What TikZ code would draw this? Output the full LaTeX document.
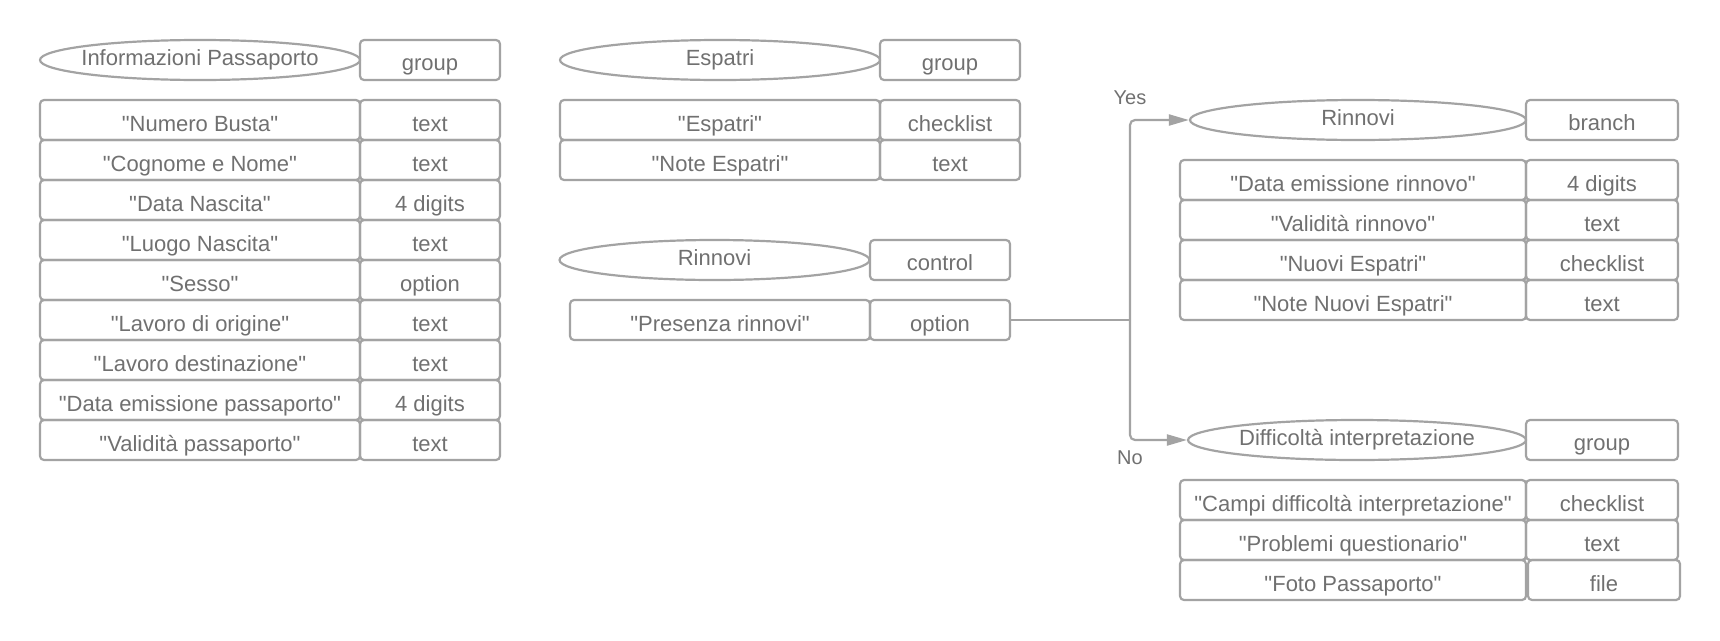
\documentclass[tikz,border=0pt]{standalone}
\usepackage{fontspec}
\setmainfont{Liberation Sans}[Ligatures=TeXOff]
\usetikzlibrary{shapes.geometric,arrows.meta}
\definecolor{ln}{HTML}{A3A3A3}
\definecolor{tx}{HTML}{707070}
\tikzset{
 base/.style={draw=ln, line width=2.2pt, text=tx, inner sep=0pt, font=\fontsize{22}{26}\selectfont},
 cell/.style={base, rectangle, rounded corners=4pt, minimum height=40pt, text height=22pt, text depth=0pt},
 tbox/.style={base, rectangle, rounded corners=4pt, minimum height=40pt, text height=20pt, text depth=0pt},
 oval/.style={base, ellipse, minimum height=40pt, text height=10pt, text depth=0pt},
 lbl/.style={text=tx, inner sep=0pt, anchor=base, font=\fontsize{20}{24}\selectfont},
 conn/.style={draw=ln, line width=2.2pt, rounded corners=5pt},
 tip/.style={-{Triangle[length=20pt,width=11pt]}}
}
\newcommand{\ovtext}[1]{\makebox[0pt]{#1}}
\begin{document}
\begin{tikzpicture}[x=1pt,y=-1pt]
\useasboundingbox (0,0) rectangle (1720,640);
% left column
\node[oval, minimum width=320pt] (e1) at (200,60) {\ovtext{Informazioni Passaporto}};
\node[tbox, minimum width=140pt] (g1) at (430,60) {group};
\node[cell, minimum width=320pt] (a1) at (200,120) {"Numero Busta"};
\node[cell, minimum width=140pt] (b1) at (430,120) {text};
\node[cell, minimum width=320pt] (a2) at (200,160) {"Cognome e Nome"};
\node[cell, minimum width=140pt] (b2) at (430,160) {text};
\node[cell, minimum width=320pt] (a3) at (200,200) {"Data Nascita"};
\node[cell, minimum width=140pt] (b3) at (430,200) {4 digits};
\node[cell, minimum width=320pt] (a4) at (200,240) {"Luogo Nascita"};
\node[cell, minimum width=140pt] (b4) at (430,240) {text};
\node[cell, minimum width=320pt] (a5) at (200,280) {"Sesso"};
\node[cell, minimum width=140pt] (b5) at (430,280) {option};
\node[cell, minimum width=320pt] (a6) at (200,320) {"Lavoro di origine"};
\node[cell, minimum width=140pt] (b6) at (430,320) {text};
\node[cell, minimum width=320pt] (a7) at (200,360) {"Lavoro destinazione"};
\node[cell, minimum width=140pt] (b7) at (430,360) {text};
\node[cell, minimum width=320pt] (a8) at (200,400) {"Data emissione passaporto"};
\node[cell, minimum width=140pt] (b8) at (430,400) {4 digits};
\node[cell, minimum width=320pt] (a9) at (200,440) {"Validità passaporto"};
\node[cell, minimum width=140pt] (b9) at (430,440) {text};
% middle column
\node[oval, minimum width=320pt] (e2) at (720,60) {\ovtext{Espatri}};
\node[tbox, minimum width=140pt] (g2) at (950,60) {group};
\node[cell, minimum width=320pt] (c1) at (720,120) {"Espatri"};
\node[cell, minimum width=140pt] (d1) at (950,120) {checklist};
\node[cell, minimum width=320pt] (c2) at (720,160) {"Note Espatri"};
\node[cell, minimum width=140pt] (d2) at (950,160) {text};
\node[oval, minimum width=310pt] (e3) at (714.5,260) {\ovtext{Rinnovi}};
\node[tbox, minimum width=140pt] (g3) at (940,260) {control};
\node[cell, minimum width=300pt] (pr) at (720,320) {"Presenza rinnovi"};
\node[cell, minimum width=140pt] (opt) at (940,320) {option};
% right column, Yes branch
\node[oval, minimum width=336pt] (e4) at (1358,120) {\ovtext{Rinnovi}};
\node[tbox, minimum width=152pt] (g4) at (1602,120) {branch};
\node[cell, minimum width=346pt] (f1) at (1353,180) {"Data emissione rinnovo"};
\node[cell, minimum width=152pt] (h1) at (1602,180) {4 digits};
\node[cell, minimum width=346pt] (f2) at (1353,220) {"Validità rinnovo"};
\node[cell, minimum width=152pt] (h2) at (1602,220) {text};
\node[cell, minimum width=346pt] (f3) at (1353,260) {"Nuovi Espatri"};
\node[cell, minimum width=152pt] (h3) at (1602,260) {checklist};
\node[cell, minimum width=346pt] (f4) at (1353,300) {"Note Nuovi Espatri"};
\node[cell, minimum width=152pt] (h4) at (1602,300) {text};
% right column, No branch
\node[oval, minimum width=338pt] (e5) at (1357,440) {\ovtext{Difficoltà interpretazione}};
\node[tbox, minimum width=152pt] (g5) at (1602,440) {group};
\node[cell, minimum width=346pt] (k1) at (1353,500) {"Campi difficoltà interpretazione"};
\node[cell, minimum width=152pt] (m1) at (1602,500) {checklist};
\node[cell, minimum width=346pt] (k2) at (1353,540) {"Problemi questionario"};
\node[cell, minimum width=152pt] (m2) at (1602,540) {text};
\node[cell, minimum width=346pt] (k3) at (1353,580) {"Foto Passaporto"};
\node[cell, minimum width=152pt] (m3) at (1604,580) {file};
% connectors
\coordinate (j) at (1130,320);
\draw[conn] (opt.east) -- (j);
\draw[conn,tip] (j) |- (e4.west);
\draw[conn,tip] (j) |- (e5.west);
\node[lbl] (yes) at (1130,104) {Yes};
\node[lbl] (no) at (1130,464) {No};
\end{tikzpicture}
\end{document}
